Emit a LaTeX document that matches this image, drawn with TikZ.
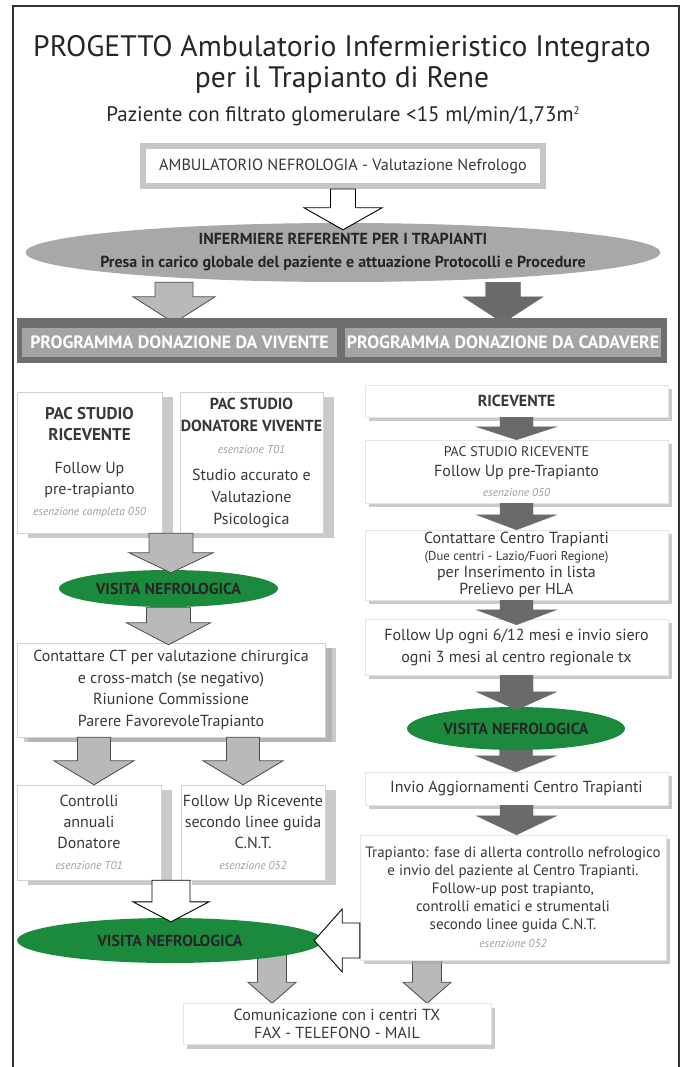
\documentclass[tikz,border=0pt]{standalone}
\usepackage{fontspec}
\setmainfont{PT Sans}
\usetikzlibrary{shapes.geometric,shadows,calc,backgrounds}
\definecolor{txt}{HTML}{383838}
\definecolor{refgray}{HTML}{A8A8A8}
\definecolor{bardark}{HTML}{6E6E6E}
\definecolor{barlight}{HTML}{A4A4A4}
\definecolor{vgreen}{HTML}{1C8A3C}
\definecolor{arrlight}{HTML}{B9B9B9}
\definecolor{arrdark}{HTML}{6A6A6A}
\newcommand{\esz}[1]{{\fontsize{11.5}{13}\selectfont\itshape\color{gray!75}#1}}
\newcommand{\dnarrow}[6]{\draw[#1] let \p1=(#2), \p2=(#3) in (\x1-#4pt,\y1) -- (\x1-#4pt,\y2+#6pt) -- (\x1-#5pt,\y2+#6pt) -- (\x1,\y2) -- (\x1+#5pt,\y2+#6pt) -- (\x1+#4pt,\y2+#6pt) -- (\x1+#4pt,\y1) -- cycle;}
\newcommand{\lfarrow}[6]{\draw[#1] let \p1=(#2), \p2=(#3) in (\x1,\y1+#4pt) -- (\x2+#6pt,\y1+#4pt) -- (\x2+#6pt,\y1+#5pt) -- (\x2,\y1) -- (\x2+#6pt,\y1-#5pt) -- (\x2+#6pt,\y1-#4pt) -- (\x1,\y1-#4pt) -- cycle;}
\begin{document}
\begin{tikzpicture}[x=1pt,y=1pt]
\tikzstyle{every node}+=[inner sep=0pt, text=txt]
\tikzstyle{lbox}=[draw=gray!35, fill=white, align=center, font=\fontsize{16}{21}\selectfont, drop shadow={shadow xshift=11pt, shadow yshift=-5pt, fill=gray!70, opacity=0.6}]
\tikzstyle{rbox}=[draw=gray!20, fill=white, align=center, font=\fontsize{16}{20}\selectfont, drop shadow={shadow xshift=4pt, shadow yshift=-4pt, fill=gray!70, opacity=0.6}]
\tikzstyle{visita}=[ellipse, fill=vgreen, font=\fontsize{16}{18}\selectfont\bfseries, text=black!85]
\tikzstyle{progr}=[fill=barlight, minimum height=29, font=\fontsize{17.8}{20}\selectfont\bfseries, text=white]
\tikzstyle{whitearr}=[draw=black, fill=white, line width=0.9pt]
\tikzstyle{lightarr}=[draw=black!70, fill=arrlight, line width=0.8pt]
\tikzstyle{darkarr}=[draw=arrdark, fill=arrdark]
\useasboundingbox (0,0) rectangle (683,-1067);
\draw[black!80, line width=1.2] (13,-1067) -- (13,-6) -- (679,-6) -- (679,-1067);
\node[anchor=base, font=\fontsize{29.6}{32}\selectfont, text=black!85] (title1) at (342,-57) {PROGETTO Ambulatorio Infermieristico Integrato};
\node[anchor=base, font=\fontsize{29.6}{32}\selectfont, text=black!85] (title2) at (342,-88) {per il Trapianto di Rene};
\node[anchor=base, font=\fontsize{21}{22}\selectfont, text=black!85] (subt) at (343,-122) {Paziente con filtrato glomerulare <15 ml/min/1,73m{\fontsize{11}{12}\selectfont\raisebox{7pt}{2}}};
\node[draw=gray!45, line width=6, fill=white, minimum width=400, minimum height=40, font=\fontsize{16.2}{18}\selectfont, drop shadow={shadow xshift=2pt, shadow yshift=-3pt, fill=gray!70, opacity=0.6}] (amb) at (343,-166) {AMBULATORIO NEFROLOGIA - Valutazione Nefrologo};
\node[ellipse, fill=refgray, minimum width=635, minimum height=59, inner xsep=-50pt, align=center, font=\fontsize{16}{23}\selectfont\bfseries, text=black!85] (ref) at (343,-252.5) {INFERMIERE REFERENTE PER I TRAPIANTI\\Presa in carico globale del paziente e attuazione Protocolli e Procedure};
\node[fill=bardark, minimum width=650, minimum height=45] (bar) at (342,-340.5) {};
\node[progr, minimum width=315] (viv) at (179.5,-342.5) {PROGRAMMA DONAZIONE DA VIVENTE};
\node[progr, minimum width=316] (cad) at (503,-342.5) {PROGRAMMA DONAZIONE DA CADAVERE};
\node[lbox, minimum width=145, minimum height=141] (pacr) at (89.5,-462.5) {\textbf{\fontsize{17}{21}\selectfont PAC STUDIO}\\\textbf{\fontsize{17}{21}\selectfont RICEVENTE}\\[12pt]Follow Up\\pre-trapianto\\\esz{esenzione completa 050}};
\node[lbox, minimum width=143, minimum height=141, font=\fontsize{16}{22}\selectfont] (pacd) at (251.5,-462.5) {\textbf{PAC STUDIO}\\\textbf{DONATORE VIVENTE}\\\esz{esenzione T01}\\[5pt]Studio accurato e\\Valutazione\\Psicologica};
\node[visita, minimum width=219, minimum height=37] (vis1) at (168.5,-588.5) {VISITA NEFROLOGICA};
\node[lbox, minimum width=308, minimum height=94, font=\fontsize{16}{21.5}\selectfont, drop shadow={shadow xshift=7pt, shadow yshift=-5pt, fill=gray!70, opacity=0.6}] (cont) at (171,-690) {Contattare CT per valutazione chirurgica\\e cross-match (se negativo)\\Riunione Commissione\\Parere FavorevoleTrapianto};
\node[lbox, minimum width=144, minimum height=95] (ctrl) at (89,-832.5) {Controlli\\annuali\\Donatore\\\esz{esenzione T01}};
\node[lbox, minimum width=144, minimum height=95] (fur) at (253,-832.5) {Follow Up Ricevente\\secondo linee guida\\C.N.T.\\\esz{esenzione 052}};
\node[visita, minimum width=306, minimum height=45] (vis2) at (170,-940.5) {VISITA NEFROLOGICA};
\node[rbox, minimum width=308, minimum height=41, font=\fontsize{16}{18}\selectfont] (comm) at (337,-1024) {Comunicazione con i centri TX\\FAX - TELEFONO - MAIL};
\node[rbox, minimum width=303, minimum height=32] (ric) at (516.5,-401) {\textbf{RICEVENTE}};
\node[rbox, minimum width=303, minimum height=63] (pric) at (516.5,-471.5) {{\fontsize{14}{20}\selectfont PAC STUDIO RICEVENTE}\\Follow Up pre-Trapianto\\\esz{esenzione 050}};
\node[rbox, minimum width=303, minimum height=70, font=\fontsize{16}{17}\selectfont] (ctc) at (516.5,-565) {Contattare Centro Trapianti\\{\fontsize{12.8}{14}\selectfont (Due centri - Lazio/Fuori Regione)}\\per Inserimento in lista\\Prelievo per HLA};
\node[rbox, minimum width=303, minimum height=56, font=\fontsize{16}{22}\selectfont] (fu) at (516.5,-647) {Follow Up ogni 6/12 mesi e invio siero\\ogni 3 mesi al centro regionale tx};
\node[visita, minimum width=218, minimum height=43] (vis3) at (516,-728.5) {VISITA NEFROLOGICA};
\node[rbox, minimum width=303, minimum height=33] (inv) at (516.5,-788.5) {Invio Aggiornamenti Centro Trapianti};
\node[rbox, minimum width=306, minimum height=125, font=\fontsize{15}{18}\selectfont] (trap) at (513,-897.5) {Trapianto: fase di allerta controllo nefrologico\\e invio del paziente al Centro Trapianti.\\Follow-up post trapianto,\\controlli ematici e strumentali\\secondo linee guida C.N.T.\\\esz{esenzione 052}};
\begin{scope}[on background layer]
\dnarrow{lightarr}{$(viv.north |- ref.south)+(-5.5,0)$}{$(bar.north)+(0,-5)$}{19}{41}{26}
\dnarrow{darkarr}{cad.north |- ref.south}{$(bar.north)+(0,-5)$}{17.5}{40}{26}
\dnarrow{lightarr}{$(comm.north |- vis2.center)+(-65,0)$}{comm.north}{14.5}{24}{21}
\dnarrow{lightarr}{$(comm.north |- trap.center)+(90,0)$}{comm.north}{14.5}{24}{21}
\end{scope}
\dnarrow{whitearr}{amb.south}{$(ref.north)+(0,-7)$}{12.5}{39}{22}
\dnarrow{lightarr}{$(pacr.south east)!0.5!(pacd.south west)$}{$(vis1.north)+(0,-3)$}{22}{42}{20}
\dnarrow{lightarr}{vis1.south}{$(cont.north)+(0,-2)$}{22}{42}{22}
\dnarrow{lightarr}{$(ctrl.north |- cont.south)+(5,0)$}{ctrl.north}{16.5}{40}{24}
\dnarrow{lightarr}{$(fur.north |- cont.south)+(-10,0)$}{fur.north}{16.5}{40}{24}
\dnarrow{whitearr}{$(ctrl.south east)!0.5!(fur.south west)$}{$(vis2.north)+(0,-4)$}{19}{38}{20}
\lfarrow{whitearr}{trap.west |- vis2.east}{$(vis2.east)+(-9,0)$}{17.5}{31.5}{28}
\dnarrow{darkarr}{ric.south}{pric.north}{16.5}{40}{13}
\dnarrow{darkarr}{pric.south}{ctc.north}{16.5}{40}{15}
\dnarrow{darkarr}{ctc.south}{$(fu.north)+(0,-6)$}{16.5}{40}{15}
\dnarrow{darkarr}{fu.south}{$(vis3.north)+(0,-3)$}{16.5}{40}{18}
\dnarrow{darkarr}{vis3.south}{inv.north}{16.5}{40}{16}
\dnarrow{darkarr}{inv.south}{trap.north}{16.5}{40}{19}
\end{tikzpicture}
\end{document}
